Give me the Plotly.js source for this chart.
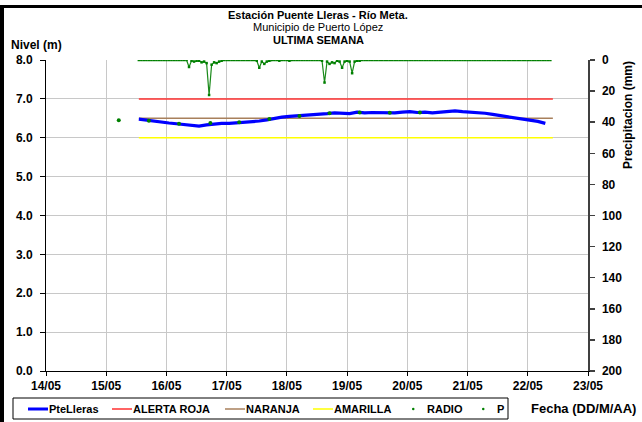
<!DOCTYPE html>
<html>
<head>
<meta charset="utf-8">
<script src="https://cdn.plot.ly/plotly-3.0.1.min.js"></script>
<style>
  html, body { margin: 0; padding: 0; background: #ffffff; }
  #wrap { position: relative; width: 642px; height: 422px; overflow: hidden; }
  #chart { position: absolute; left: 0; top: 0; width: 642px; height: 422px; }
  #frameL { position: absolute; left: 0; top: 5px; width: 4px; height: 417px; background: #000; pointer-events: none; }
  #frameT { position: absolute; left: 0; top: 5px; width: 642px; height: 3px; background: #000; pointer-events: none; }
</style>
</head>
<body>
<div id="wrap">
  <div id="chart"></div>
  <div id="frameL"></div>
  <div id="frameT"></div>
</div>
<script>
// ---- Data ----
var xTickLabels = ['14/05','15/05','16/05','17/05','18/05','19/05','20/05','21/05','22/05','23/05'];

// River level (m), every 3 hours starting 15/05 13:00
var levelStart = '2024-05-15 13:00';
var levelStepHours = 3;
var levelValues = [
  6.48, 6.45, 6.43, 6.41, 6.38, 6.36, 6.34, 6.31,
  6.30, 6.33, 6.36, 6.37, 6.37, 6.38, 6.39, 6.40,
  6.43, 6.46, 6.50, 6.53, 6.55, 6.56, 6.58, 6.59,
  6.61, 6.62, 6.64, 6.64, 6.62, 6.66, 6.64, 6.65,
  6.64, 6.65, 6.64, 6.66, 6.67, 6.65, 6.66, 6.64,
  6.66, 6.67, 6.69, 6.67, 6.66, 6.64, 6.63, 6.60,
  6.57, 6.54, 6.50, 6.46, 6.43, 6.42, 6.37
];

// Alert thresholds (m) and the period they are drawn over
var alertPeriod = ['2024-05-15 13:00', '2024-05-22 10:00'];
var alertaRoja = 7.0;
var naranja = 6.5;
var amarilla = 6.0;

// RADIO readings
var radioTimes = ['2024-05-15 05:00','2024-05-15 17:00','2024-05-16 05:00','2024-05-16 17:30',
                  '2024-05-17 05:00','2024-05-17 17:00','2024-05-18 05:00','2024-05-18 17:00',
                  '2024-05-19 05:00','2024-05-19 17:00','2024-05-20 05:00'];
var radioValues = [6.45, 6.44, 6.36, 6.38, 6.40, 6.48, 6.56, 6.63, 6.65, 6.64, 6.65];

// Precipitation P (mm), hourly starting 15/05 13:00
var precipStart = '2024-05-15 13:00';
var precipStepHours = 1;
var precipValues = [
  0,0,0,0,0,0,0,0,0,0,0,0,0,0,0,0,0,0,0,0,4.5,0.5,1,0.5,
  0.5,1.5,1,2,22.5,3,1.5,2,1,0.5,0,0,0,0,0,0,0,0,0,0,0,0,0,0.5,
  5,1,2.5,1,0.5,0,0,0,0.5,0,0,0,0.5,0,0,0,0,0,0,0,0,0,0,0,
  0,0.5,14.5,1,2.5,1.5,2,0.5,1,5,1,0.5,1,8.5,1,0.5,0.5,0,0,0,0,0,0,0,
  0,0,0,0,0,0,0,0,0,0,0,0,0,0,0,0,0,0,0,0,0,0,0,0,
  0,0,0,0,0,0,0,0,0,0,0,0,0,0,0,0,0,0,0,0,0,0,0,0,
  0,0,0,0,0,0,0,0,0,0,0,0,0,0,0,0,0,0,0,0,0
];

// Series names (legend order)
var seriesNames = ['PteLleras', 'ALERTA ROJA', 'NARANJA', 'AMARILLA', 'RADIO', 'P'];

// ---- Chart ----
var HOUR = 3600000;
var FONT = 'Arial, "Liberation Sans", sans-serif';
var W = 642, H = 422, ML = 46, MR = 54, MT = 60, MB = 51;
var PW = W - ML - MR, PH = H - MT - MB;
function px(x) { return (x - ML) / PW; }          // pixel x -> paper x
function py(y) { return (H - MB - y) / PH; }       // pixel y -> paper y

var colors = { blue: '#0000ff', red: '#ff3030', brown: '#a8805c', yellow: '#ffff00', green: '#008000' };

var traces = [
  { name: seriesNames[1], x: alertPeriod, y: [alertaRoja, alertaRoja], mode: 'lines',
    line: { color: colors.red, width: 1.5 } },
  { name: seriesNames[2], x: alertPeriod, y: [naranja, naranja], mode: 'lines',
    line: { color: colors.brown, width: 1.5 } },
  { name: seriesNames[3], x: alertPeriod, y: [amarilla, amarilla], mode: 'lines',
    line: { color: colors.yellow, width: 1.5 } },
  { name: seriesNames[0], x0: levelStart, dx: levelStepHours * HOUR, y: levelValues, mode: 'lines',
    line: { color: colors.blue, width: 3.2 } },
  { name: seriesNames[4], x: radioTimes, y: radioValues, mode: 'markers',
    marker: { color: colors.green, size: 4 } },
  { name: seriesNames[5], x0: precipStart, dx: precipStepHours * HOUR, y: precipValues, yaxis: 'y2',
    mode: 'lines+markers', line: { color: '#1a8a1a', width: 1.2 },
    marker: { color: colors.green, size: 2.5, symbol: 'square' } }
];

// Legend box drawn in the chart's own bottom strip (Excel-style compact legend)
var legendItems = [
  { name: seriesNames[0], kind: 'line', color: colors.blue, width: 3, x: 28 },
  { name: seriesNames[1], kind: 'line', color: colors.red, width: 1.5, x: 112 },
  { name: seriesNames[2], kind: 'line', color: colors.brown, width: 1.5, x: 225 },
  { name: seriesNames[3], kind: 'line', color: colors.yellow, width: 1.5, x: 313 },
  { name: seriesNames[4], kind: 'dot', color: colors.green, x: 404 },
  { name: seriesNames[5], kind: 'dot', color: colors.green, x: 474 }
];
var legY = 409;
var shapes = [
  { type: 'rect', xref: 'paper', yref: 'paper', x0: px(13), x1: px(508), y0: py(419), y1: py(398),
    line: { color: '#000', width: 1 }, fillcolor: '#fff', layer: 'above' }
];
var annotations = [];
legendItems.forEach(function (it) {
  if (it.kind === 'line') {
    shapes.push({ type: 'line', xref: 'paper', yref: 'paper', x0: px(it.x), x1: px(it.x + 20),
      y0: py(legY), y1: py(legY), line: { color: it.color, width: it.width }, layer: 'above' });
  } else {
    shapes.push({ type: 'circle', xref: 'paper', yref: 'paper', x0: px(it.x + 8), x1: px(it.x + 10.5),
      y0: py(legY + 1.25), y1: py(legY - 1.25), line: { width: 0 }, fillcolor: it.color, layer: 'above' });
  }
  annotations.push({ text: '<b>' + it.name + '</b>', xref: 'paper', yref: 'paper',
    x: px(it.kind === 'line' ? it.x + 20 : it.x + 22), y: py(legY), xanchor: 'left', yanchor: 'middle',
    showarrow: false, borderpad: 0, font: { family: FONT, size: 11, color: '#000' } });
});

annotations = annotations.concat([
  { text: '<b>Estación Puente Lleras - Río Meta.</b>', xref: 'paper', yref: 'paper',
    x: px(318), y: py(15), xanchor: 'center', yanchor: 'middle', showarrow: false,
    font: { family: FONT, size: 11 } },
  { text: 'Municipio de Puerto López', xref: 'paper', yref: 'paper',
    x: px(318), y: py(27), xanchor: 'center', yanchor: 'middle', showarrow: false,
    font: { family: FONT, size: 11 } },
  { text: '<b>ULTIMA SEMANA</b>', xref: 'paper', yref: 'paper',
    x: px(318), y: py(39.5), xanchor: 'center', yanchor: 'middle', showarrow: false,
    font: { family: FONT, size: 11 } },
  { text: '<b>Nivel (m)</b>', xref: 'paper', yref: 'paper',
    x: px(9), y: py(45), xanchor: 'left', yanchor: 'middle', showarrow: false,
    font: { family: FONT, size: 12 } },
  { text: '<b>Precipitacion (mm)</b>', xref: 'paper', yref: 'paper',
    x: px(628), y: py(115), xanchor: 'center', yanchor: 'middle', textangle: -90, showarrow: false,
    font: { family: FONT, size: 12 } },
  { text: '<b>Fecha (DD/M/AA)</b>', xref: 'paper', yref: 'paper',
    x: px(638), y: py(408), xanchor: 'right', yanchor: 'middle', showarrow: false,
    font: { family: FONT, size: 13 } }
]);

var layout = {
  width: W, height: H,
  margin: { l: ML, r: MR, t: MT, b: MB, autoexpand: false },
  paper_bgcolor: '#ffffff', plot_bgcolor: '#ffffff',
  font: { family: FONT, size: 11, color: '#000' },
  showlegend: false,
  xaxis: {
    type: 'date', range: ['2024-05-14', '2024-05-23'],
    tick0: '2024-05-14', dtick: 86400000, tickformat: '%d/%m',
    showgrid: true, gridcolor: '#c8c8c8', gridwidth: 1,
    showline: true, linecolor: '#000', linewidth: 1,
    ticks: 'outside', ticklen: 4, tickcolor: '#000',
    tickfont: { family: FONT, size: 12, weight: 'bold' },
    zeroline: false, fixedrange: true
  },
  yaxis: {
    range: [0, 8], dtick: 1, tickformat: '.1f',
    showgrid: true, gridcolor: '#c8c8c8', gridwidth: 1,
    showline: true, linecolor: '#000', linewidth: 1,
    ticks: 'outside', ticklen: 5, tickcolor: '#000',
    ticklabelstandoff: 5,
    tickfont: { family: FONT, size: 12, weight: 'bold' },
    zeroline: false, fixedrange: true
  },
  yaxis2: {
    overlaying: 'y', side: 'right', range: [200, 0], dtick: 20,
    showgrid: false, showline: true, linecolor: '#404040', linewidth: 1.5,
    ticks: 'outside', ticklen: 5, tickcolor: '#404040', tickwidth: 1.5,
    ticklabelstandoff: 5,
    tickfont: { family: FONT, size: 12, weight: 'bold' },
    zeroline: false, fixedrange: true
  },
  shapes: shapes,
  annotations: annotations
};

Plotly.newPlot('chart', traces, layout, { displayModeBar: false, staticPlot: true });
</script>
</body>
</html>
